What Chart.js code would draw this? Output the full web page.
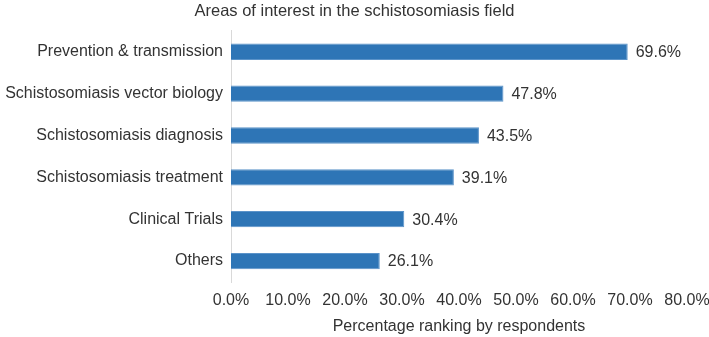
<!DOCTYPE html>
<html>
<head>
<meta charset="utf-8">
<script src="https://cdn.jsdelivr.net/npm/chart.js@4.4.1/dist/chart.umd.min.js"></script>
<style>
  html, body { margin: 0; padding: 0; background: #fff; }
  #wrap { width: 709px; height: 337px; }
</style>
</head>
<body>
<div id="wrap"><canvas id="chart"></canvas></div>
<script>
// categories and values
const areas = ['Prevention & transmission', 'Schistosomiasis vector biology', 'Schistosomiasis diagnosis',
    'Schistosomiasis treatment', 'Clinical Trials', 'Others'];
const percents = [69.6, 47.8, 43.5, 39.1, 30.4, 26.1];
const xTicks = [0, 10, 20, 30, 40, 50, 60, 70, 80];

const ctx = document.getElementById('chart');
const fontFam = '"Liberation Sans", Arial, sans-serif';

// value labels at the end of each bar
const barLabels = {
    id: 'barLabels',
    afterDatasetsDraw(chart) {
        const c = chart.ctx;
        const meta = chart.getDatasetMeta(0);
        c.save();
        c.font = '16px ' + fontFam;
        c.fillStyle = '#333';
        c.textAlign = 'left';
        c.textBaseline = 'middle';
        meta.data.forEach(function(bar, i) {
            c.fillText(percents[i].toFixed(1) + '%', bar.x + 8, bar.y + 1);
        });
        c.restore();
    }
};

new Chart(ctx, {
    type: 'bar',
    data: {
        labels: areas,
        datasets: [{
            data: percents,
            backgroundColor: '#2e75b6',
            borderColor: '#5b93c9',
            borderWidth: 1,
            barPercentage: 0.39,
            categoryPercentage: 1
        }]
    },
    options: {
        indexAxis: 'y',
        responsive: true,
        maintainAspectRatio: false,
        animation: false,
        layout: { padding: { left: 0, right: 0, top: 2, bottom: 1 } },
        plugins: {
            legend: { display: false },
            tooltip: { enabled: false },
            title: {
                display: true,
                text: 'Areas of interest in the schistosomiasis field',
                color: '#333',
                font: { family: fontFam, size: 16.5, weight: 'normal' },
                padding: { top: 0, bottom: 9 }
            }
        },
        scales: {
            x: {
                min: 0,
                max: 80,
                afterBuildTicks: function(axis) {
                    axis.ticks = xTicks.map(v => ({ value: v }));
                },
                afterFit: function(axis) {
                    axis.height = 54;
                    axis.paddingRight = 22;
                },
                grid: { display: false, drawTicks: false },
                border: { display: false },
                ticks: {
                    color: '#333',
                    padding: 9,
                    maxRotation: 0,
                    font: { family: fontFam, size: 16 },
                    callback: v => v.toFixed(1) + '%'
                },
                title: {
                    display: true,
                    text: 'Percentage ranking by respondents',
                    color: '#333',
                    font: { family: fontFam, size: 16 },
                    padding: { top: 6, bottom: 0 }
                }
            },
            y: {
                afterFit: function(axis) { axis.width = 231; },
                grid: { display: false, drawTicks: false },
                border: { display: true, color: '#d9d9d9', width: 1 },
                ticks: {
                    color: '#333',
                    padding: 8,
                    font: { family: fontFam, size: 16 }
                }
            }
        }
    },
    plugins: [barLabels]
});
</script>
</body>
</html>
